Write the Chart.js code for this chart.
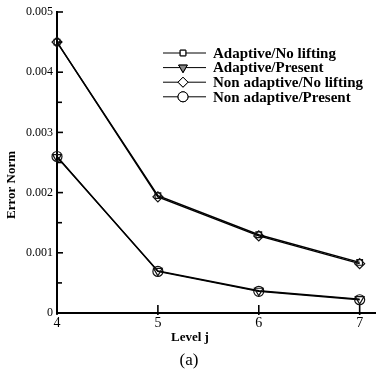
<!DOCTYPE html>
<html lang="en">
  <head>
    <meta charset="UTF-8" />
    <title>Error Norm</title>
    <script src="https://cdn.jsdelivr.net/npm/chart.js@4/dist/chart.umd.min.js"></script>
    <style>
      html, body { margin: 0; padding: 0; background: #fff; }
      #wrap { position: relative; width: 382px; height: 376px; }
    </style>
  </head>
  <body>
    <div id="wrap"><canvas id="myChart" width="382" height="376"></canvas></div>
    <script>
      // levels on the x axis
      var levels = [4, 5, 6, 7];
      var xTicks = [4, 5, 6, 7];
      var yTickLabels = ["0", "0.001", "0.002", "0.003", "0.004", "0.005"];

      var names = [
        "Adaptive/No lifting",
        "Adaptive/Present",
        "Non adaptive/No lifting",
        "Non adaptive/Present"
      ];
      var adaptNoLift = [0.0045, 0.00195, 0.0013, 0.00084];
      var adaptPresent = [0.00259, 0.0007, 0.00037, 0.00023];
      var nonadaptNoLift = [0.0045, 0.00193, 0.00128, 0.00082];
      var nonadaptPresent = [0.0026, 0.00069, 0.00036, 0.00022];

      var series = [adaptNoLift, adaptPresent, nonadaptNoLift, nonadaptPresent];
      var markers = ["rect", "triangle", "rectRot", "circle"];
      var markerSize = [4, 5, 5, 5];
      var markerRot = [0, 180, 0, 0];

      var serif = "'Liberation Serif', 'DejaVu Serif', serif";

      var datasets = series.map(function (vals, i) {
        return {
          label: names[i],
          data: vals.map(function (v, k) { return { x: levels[k], y: v }; }),
          borderColor: "#000",
          borderWidth: 1.4,
          pointStyle: markers[i],
          pointRadius: markerSize[i],
          pointRotation: markerRot[i],
          pointBorderColor: "#111",
          pointBorderWidth: 1.2,
          pointBackgroundColor: "rgba(0,0,0,0)",
          tension: 0,
          clip: false
        };
      });

      // tick marks inside the plot, legend and extra titles
      var decor = {
        id: "decor",
        afterDraw: function (chart) {
          var ctx = chart.ctx;
          var xs = chart.scales.x, ys = chart.scales.y;
          var x0 = xs.getPixelForValue(4), y0 = ys.getPixelForValue(0);
          ctx.save();
          ctx.strokeStyle = "#000";
          ctx.lineWidth = 1.6;
          ys.ticks.forEach(function (t) {
            var py = ys.getPixelForValue(t.value);
            var major = Math.abs(t.value * 1000 - Math.round(t.value * 1000)) < 1e-6;
            ctx.beginPath();
            ctx.moveTo(x0, py);
            ctx.lineTo(x0 + (major ? 6 : 5), py);
            ctx.stroke();
          });
          xTicks.forEach(function (v) {
            var px = xs.getPixelForValue(v);
            ctx.beginPath();
            ctx.moveTo(px, y0 - 8);
            ctx.lineTo(px, y0 + 2);
            ctx.stroke();
          });

          // legend
          ctx.lineWidth = 1;
          ctx.font = "bold 15px " + serif;
          ctx.textBaseline = "middle";
          ctx.fillStyle = "#000";
          chart.data.datasets.forEach(function (ds, i) {
            var ly = 53 + i * 14.6;
            ctx.strokeStyle = "#000";
            ctx.beginPath();
            ctx.moveTo(163, ly);
            ctx.lineTo(206, ly);
            ctx.stroke();
            Chart.helpers.drawPoint(ctx, {
              pointStyle: ds.pointStyle,
              radius: ds.pointRadius,
              rotation: ds.pointRotation,
              borderWidth: 1
            }, 183, ly);
            ctx.fillStyle = i === 1 ? "#888" : "#fff";
            ctx.fill();
            ctx.stroke();
            ctx.fillStyle = "#000";
            ctx.fillText(ds.label, 213, ly + 1);
          });

          // axis titles
          ctx.font = "bold 13px " + serif;
          ctx.textAlign = "center";
          ctx.fillText("Level j", 190, 338);
          ctx.save();
          ctx.translate(12, 185);
          ctx.rotate(-Math.PI / 2);
          ctx.fillText("Error Norm", 0, 0);
          ctx.restore();
          ctx.font = "17px " + serif;
          ctx.fillText("(a)", 189, 361);
          ctx.restore();
        }
      };

      new Chart(document.getElementById("myChart"), {
        type: "line",
        data: { datasets: datasets },
        options: {
          responsive: false,
          animation: false,
          layout: { padding: { top: 12, right: 0, bottom: 0, left: 0 } },
          plugins: { legend: { display: false }, tooltip: { enabled: false } },
          scales: {
            x: {
              type: "linear",
              min: 4,
              max: 7.16,
              afterBuildTicks: function (s) {
                s.ticks = xTicks.map(function (v) { return { value: v }; });
              },
              afterFit: function (s) { s.height = 63; },
              grid: { display: false, drawTicks: false },
              border: { display: true, color: "#000", width: 2 },
              ticks: {
                color: "#000",
                padding: 2,
                maxRotation: 0,
                font: { family: serif, size: 14 },
                callback: function (v) { return String(v); }
              }
            },
            y: {
              min: 0,
              max: 0.005,
              afterFit: function (s) { s.width = 57; },
              grid: { display: false, drawTicks: false },
              border: { display: true, color: "#000", width: 2 },
              ticks: {
                stepSize: 0.0005,
                color: "#000",
                padding: 4,
                autoSkip: false,
                font: { family: serif, size: 12 },
                callback: function (v) {
                  var k = Math.round(v * 1000);
                  if (Math.abs(v * 1000 - k) > 1e-6) return "";
                  return yTickLabels[k];
                }
              }
            }
          }
        },
        plugins: [decor]
      });
    </script>
  </body>
</html>
